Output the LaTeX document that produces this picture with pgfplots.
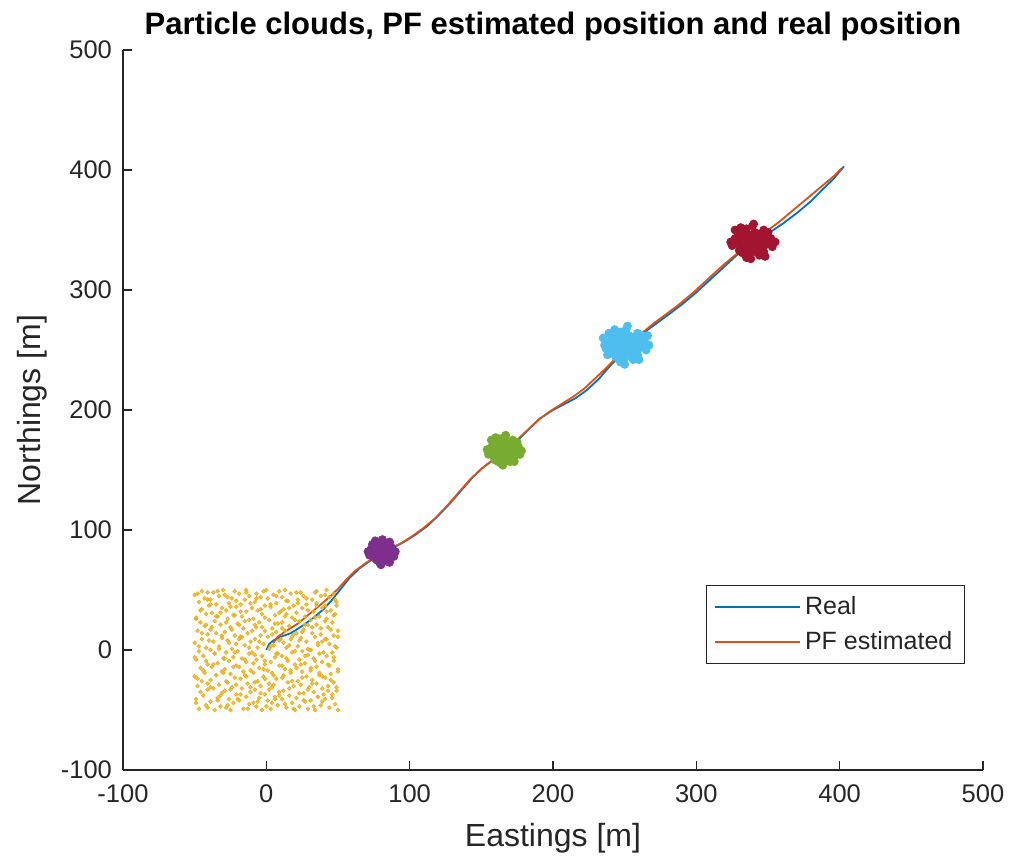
\documentclass[border=0pt]{standalone}
\usepackage{fontspec}
\setmainfont{Liberation Sans}
\usepackage{pgfplots}
\pgfplotsset{compat=1.18}
\definecolor{mblue}{rgb}{0,0.447,0.741}
\definecolor{morange}{rgb}{0.85,0.325,0.098}
\definecolor{myellow}{rgb}{0.929,0.694,0.125}
\definecolor{mpurple}{rgb}{0.494,0.184,0.556}
\definecolor{mgreen}{rgb}{0.466,0.674,0.188}
\definecolor{mcyan}{rgb}{0.301,0.745,0.933}
\definecolor{mred}{rgb}{0.635,0.078,0.184}
\definecolor{axgray}{rgb}{0.15,0.15,0.15}
\begin{document}
\begin{tikzpicture}
\path[use as bounding box] (-61.5pt,-47pt) rectangle (443pt,385pt);
\begin{axis}[at={(0,0)}, anchor=south west, scale only axis, width=430pt, height=360pt,
  xmin=-100, xmax=500, ymin=-100, ymax=500,
  xtick={-100,0,100,200,300,400,500}, ytick={-100,0,100,200,300,400,500},
  axis lines=left, axis line style={-, draw=axgray, line width=0.6pt},
  tick align=inside, major tick length=4.3pt, tick style={draw=axgray, line width=0.6pt},
  /pgf/number format/assume math mode=true,
  tick label style={font=\fontsize{12.75}{15}\selectfont, text=axgray},
  xticklabel style={yshift=-4pt},
  yticklabel style={xshift=-2pt},
  xlabel={Eastings [m]}, ylabel={Northings [m]},
  label style={font=\fontsize{16}{19}\selectfont, text=axgray},
  xlabel style={yshift=-3pt},
  title={\bfseries Particle clouds, PF estimated position and real position},
  title style={font=\fontsize{15.5}{18}\selectfont, yshift=-5pt},
  legend style={at={(rel axis cs:0.979,0.257)}, anchor=north east, draw=axgray, line width=0.6pt,
    font=\fontsize{12.5}{15}\selectfont, text=axgray, inner xsep=4pt, inner ysep=3.5pt,
    row sep=3pt},
  legend cell align=left,
  legend image code/.code={\draw[#1, line width=0.9pt] (0pt,0pt) -- (42.5pt,0pt);},
  clip=false,
]
\addplot[mblue, line width=0.9pt] coordinates {
(0,0) (2,5) (5,8) (10,11) (17,14) (25,20) (33,27) (40,34) (46,42) (52,51) (58,60) (65,68) (72,74) (80,80) (88,85) (96,90) (104,96) (112,103) (120,112) (128,122) (136,133) (144,144) (152,153) (160,160) (167,166) (175,174) (183,184) (191,193) (200,200) (208,205) (216,210) (224,217) (232,226) (240,237) (248,247) (256,257) (264,265) (272,272) (280,279) (290,288) (300,298) (310,309) (320,320) (330,331) (340,340) (350,347) (360,355) (370,364) (380,374) (390,386) (396,393) (403,403)};
\addlegendentry{Real}
\addplot[morange, line width=0.9pt] coordinates {
(5,6) (8,11) (14,16) (22,22) (30,30) (37,37) (44,44) (50,51) (56,59) (62,66) (70,73) (78,79) (86,84) (94,89) (102,95) (110,102) (118,110) (126,120) (134,131) (142,142) (150,151) (158,158) (166,166) (174,174) (182,183) (190,192) (198,199) (206,205) (214,211) (222,218) (230,227) (238,236) (246,246) (254,256) (262,264) (270,272) (278,279) (288,288) (298,298) (308,309) (318,320) (328,330) (338,340) (348,348) (358,357) (368,367) (378,377) (388,387) (396,395) (401,401)};
\addlegendentry{PF estimated}
% initial uniform particle cloud
\addplot[only marks, color=myellow, mark=*, mark size=0.9pt, mark options={draw=none, fill=myellow, fill opacity=0.75}, forget plot] coordinates {
(-47,-49) (-42,-46) (-49,-41) (-44,-38) (-41,-33) (-48,-30) (-45,-26) (-50,-22) (-43,-19) (-46,-15) (-41,-12) (-49,-8) (-44,-5) (-47,-1) (-42,2) (-50,6) (-45,9) (-41,13) (-48,16) (-43,20) (-46,23) (-49,27) (-42,30) (-45,34) (-40,37) (-47,40) (-43,43) (-50,46) (-45,49) (-41,48)
(-36,-50) (-32,-47) (-39,-43) (-34,-40) (-31,-36) (-37,-32) (-33,-29) (-39,-25) (-35,-21) (-31,-18) (-38,-14) (-34,-11) (-30,-7) (-36,-3) (-39,0) (-33,3) (-37,7) (-31,10) (-35,14) (-39,17) (-32,21) (-36,24) (-34,28) (-38,31) (-31,35) (-35,38) (-39,42) (-33,45) (-37,48) (-30,50)
(-28,-48) (-23,-44) (-26,-41) (-21,-37) (-29,-34) (-24,-31) (-27,-27) (-22,-23) (-25,-20) (-29,-16) (-21,-13) (-26,-9) (-23,-6) (-28,-2) (-24,1) (-21,5) (-27,8) (-22,12) (-29,15) (-25,19) (-20,22) (-27,26) (-23,29) (-28,33) (-21,36) (-26,39) (-24,43) (-29,46) (-22,49) (-25,-50)
(-16,-49) (-12,-45) (-19,-42) (-14,-39) (-11,-35) (-17,-32) (-13,-28) (-18,-24) (-15,-21) (-11,-17) (-19,-14) (-14,-10) (-17,-7) (-12,-3) (-20,-1) (-15,4) (-11,7) (-18,11) (-13,14) (-16,18) (-19,21) (-12,25) (-17,28) (-14,32) (-10,35) (-18,38) (-15,42) (-12,45) (-19,47) (-14,50)
(-7,-47) (-3,-50) (-9,-44) (-5,-40) (-1,-37) (-8,-33) (-4,-30) (-6,-26) (-2,-22) (-9,-19) (-5,-15) (-1,-12) (-7,-8) (-3,-5) (-10,-2) (-6,2) (-2,5) (-8,9) (-4,12) (-1,16) (-7,19) (-5,23) (-9,26) (-3,30) (-6,33) (-1,37) (-8,40) (-4,44) (-7,47) (-2,49)
(3,-49) (8,-46) (1,-42) (6,-39) (9,-35) (4,-31) (2,-28) (7,-24) (5,-21) (1,-17) (9,-13) (3,-10) (6,-6) (8,-3) (2,1) (5,4) (9,8) (1,11) (7,15) (4,18) (8,22) (2,25) (6,29) (10,32) (3,36) (7,39) (1,43) (5,46) (9,49) (4,-44)
(14,-48) (18,-44) (11,-41) (16,-38) (12,-34) (19,-30) (15,-27) (11,-23) (17,-19) (13,-16) (20,-12) (15,-9) (11,-5) (18,-2) (14,2) (12,6) (17,9) (19,13) (13,16) (16,20) (11,23) (18,27) (14,30) (12,34) (19,37) (15,41) (11,44) (17,47) (13,50) (20,-50)
(23,-47) (27,-43) (21,-40) (26,-36) (29,-33) (24,-29) (22,-26) (28,-22) (25,-18) (21,-15) (27,-11) (23,-8) (29,-4) (25,-1) (22,3) (28,7) (24,10) (21,14) (26,17) (29,21) (23,24) (27,28) (21,31) (25,35) (28,38) (22,42) (26,45) (24,48) (29,-49) (30,0)
(34,-50) (38,-46) (31,-42) (36,-39) (33,-35) (39,-32) (35,-28) (32,-25) (37,-21) (31,-17) (35,-14) (39,-10) (33,-7) (37,-3) (31,0) (36,4) (39,7) (34,11) (32,14) (38,18) (35,21) (31,25) (37,28) (33,32) (39,35) (35,39) (32,42) (38,45) (34,48) (40,-37)
(44,-48) (48,-45) (41,-41) (46,-37) (49,-34) (43,-30) (47,-27) (41,-23) (45,-20) (50,-16) (43,-12) (47,-9) (42,-5) (46,-2) (49,2) (44,5) (41,9) (47,12) (50,16) (43,19) (46,23) (42,26) (48,30) (45,33) (41,37) (49,40) (44,44) (47,47) (42,50) (50,-50)
(-49,-44) (-41,-48) (-34,-42) (-27,-46) (-20,-41) (-13,-49) (-6,-43) (0,-47) (6,-41) (13,-45) (19,-49) (26,-42) (33,-47) (39,-43) (46,-40)
(-46,-35) (-39,-31) (-32,-38) (-25,-33) (-18,-37) (-11,-31) (-4,-36) (2,-33) (9,-38) (16,-32) (23,-36) (30,-31) (36,-39) (43,-34) (49,-31)
(-48,-24) (-41,-28) (-35,-21) (-28,-26) (-21,-29) (-14,-22) (-8,-27) (-1,-24) (5,-29) (12,-21) (18,-26) (25,-23) (32,-28) (39,-22) (45,-25)
(-44,-17) (-37,-12) (-30,-19) (-23,-14) (-16,-18) (-9,-11) (-2,-16) (4,-19) (11,-13) (17,-17) (24,-12) (31,-15) (37,-19) (44,-13) (50,-18)
(-50,-6) (-42,-9) (-36,-3) (-29,-7) (-22,-2) (-15,-8) (-8,-4) (-1,-9) (7,-3) (14,-7) (20,-1) (27,-5) (34,-9) (40,-2) (47,-6)
(-47,3) (-40,8) (-33,1) (-26,6) (-19,9) (-12,2) (-5,7) (3,3) (10,9) (16,4) (23,8) (29,1) (36,6) (42,9) (48,3)
(-45,14) (-38,19) (-31,12) (-24,17) (-17,11) (-10,16) (-3,19) (4,13) (11,18) (18,11) (25,15) (32,19) (38,13) (45,17) (50,11)
(-49,26) (-42,21) (-35,28) (-28,23) (-22,29) (-15,24) (-8,21) (-1,27) (6,22) (13,28) (20,25) (27,21) (34,27) (41,24) (47,29)
(-46,33) (-39,38) (-32,31) (-25,36) (-18,32) (-11,39) (-4,34) (3,38) (9,31) (16,35) (22,39) (29,33) (35,37) (42,32) (49,37)
(-48,47) (-41,42) (-34,49) (-27,44) (-21,41) (-14,48) (-7,43) (0,50) (7,45) (14,41) (21,48) (28,43) (35,49) (41,46) (48,42)
};
% purple cloud
\addplot[only marks, color=mpurple, mark=*, mark size=2pt, mark options={draw=none, fill=mpurple}, forget plot] coordinates {
(80,82) (77,80) (83,84) (79,86) (84,79) (76,83) (81,77) (85,83) (78,78) (82,88) (74,81) (87,81) (80,75) (77,87) (84,86) (86,77) (75,77) (79,84) (82,80) (78,82) (81,85) (83,78) (76,86) (85,87) (73,84) (88,84) (80,90) (79,73) (72,79) (89,78) (77,75) (84,74) (86,90) (74,88) (81,83) (79,79) (83,81) (77,82) (80,86) (82,76) (75,80) (85,80) (78,89) (87,86) (71,82) (90,82) (80,71) (81,92) (76,91) (86,73)
};
% green cloud
\addplot[only marks, color=mgreen, mark=*, mark size=2pt, mark options={draw=none, fill=mgreen}, forget plot] coordinates {
(166,167) (162,165) (170,169) (164,171) (169,163) (160,168) (167,161) (172,167) (163,162) (168,173) (158,165) (174,164) (165,158) (161,173) (171,172) (173,160) (159,160) (164,168) (168,165) (162,169) (167,170) (170,164) (158,171) (172,175) (156,168) (176,169) (166,177) (163,156) (155,163) (177,163) (160,158) (170,157) (175,173) (157,175) (167,166) (164,163) (169,167) (161,166) (166,172) (168,160) (159,164) (171,166) (163,176) (174,170) (154,167) (178,166) (165,154) (167,179) (160,177) (173,157) (165,165) (161,162) (171,161)
};
% cyan cloud
\addplot[only marks, color=mcyan, mark=*, mark size=2pt, mark options={draw=none, fill=mcyan}, forget plot] coordinates {
(251,254) (247,252) (255,257) (249,259) (256,250) (244,256) (252,247) (258,255) (246,248) (253,262) (241,253) (261,252) (250,243) (245,261) (257,261) (259,246) (242,247) (248,256) (254,251) (246,255) (252,258) (256,253) (242,260) (259,264) (239,257) (264,257) (251,267) (247,240) (237,251) (265,250) (244,244) (256,242) (262,262) (239,264) (252,253) (249,250) (255,255) (245,253) (251,260) (254,246) (243,251) (258,251) (247,265) (261,258) (236,254) (267,254) (250,238) (252,270) (243,267) (260,242) (248,245) (253,249) (257,247) (245,258) (250,262) (235,260) (266,262) (238,246)
};
% dark red cloud
\addplot[only marks, color=mred, mark=*, mark size=2pt, mark options={draw=none, fill=mred}, forget plot] coordinates {
(339,340) (335,338) (343,343) (337,345) (344,336) (332,341) (340,333) (346,341) (334,335) (341,348) (329,339) (349,338) (338,330) (333,347) (345,347) (347,332) (330,333) (336,342) (342,338) (334,341) (340,344) (344,340) (330,346) (347,350) (327,343) (352,343) (339,353) (335,327) (325,337) (353,336) (332,331) (344,329) (350,348) (327,350) (340,339) (337,336) (343,341) (333,339) (339,346) (342,332) (331,337) (346,337) (335,351) (349,345) (324,340) (355,340) (338,326) (340,355) (331,352) (348,328) (336,333) (345,334) (334,344) (341,336)
};
\end{axis}
\end{tikzpicture}
\end{document}
